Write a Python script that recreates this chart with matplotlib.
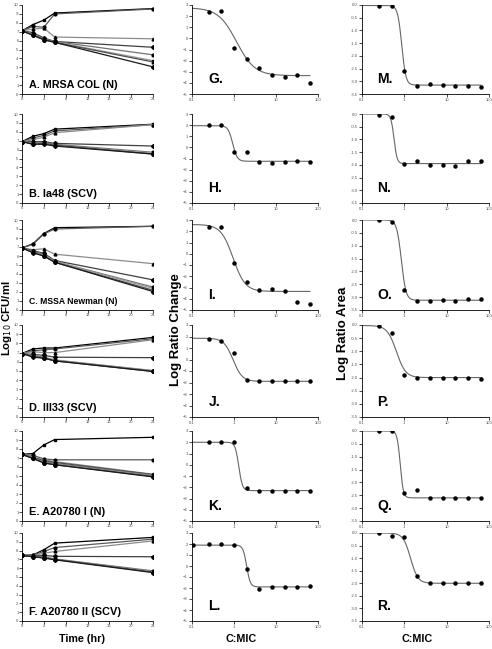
import numpy as np
import matplotlib
matplotlib.use("Agg")
import matplotlib.pyplot as plt
from matplotlib import font_manager
from matplotlib.ticker import FixedLocator, NullLocator

plt.rcParams['font.family'] = ['Liberation Sans', 'DejaVu Sans']

# narrow bold face for the panel captions, if the system has it
installed = {f.name for f in font_manager.fontManager.ttflist}
if 'Liberation Sans Narrow' in installed:
    cap_family, cap_scale = ['Liberation Sans Narrow', 'DejaVu Sans'], 1.0
else:
    cap_family, cap_scale = ['Liberation Sans', 'DejaVu Sans'], 0.82

# ---- time-kill data (Log10 CFU/ml vs time) ----
hours = [0, 2, 4, 6, 24]

kill_A = [[7.1, 7.8, 8.3, 9.1, 9.6],
          [7.1, 7.6, 7.5, 9.0, 9.55],
          [7.1, 7.3, 7.4, 6.4, 6.2],
          [7.1, 6.9, 6.3, 5.9, 5.25],
          [7.1, 6.7, 6.2, 5.9, 4.4],
          [7.1, 6.7, 6.1, 5.85, 3.75],
          [7.1, 6.6, 6.1, 5.8, 3.6],
          [7.1, 6.6, 6.1, 5.8, 3.05]]
kill_B = [[6.9, 7.5, 7.8, 8.3, 8.85],
          [6.9, 7.3, 7.6, 8.1, 8.8],
          [6.9, 7.1, 7.4, 7.9, 8.8],
          [6.9, 6.9, 6.9, 6.7, 6.4],
          [6.9, 6.8, 6.8, 6.6, 5.7],
          [6.9, 6.7, 6.7, 6.5, 5.6],
          [6.9, 6.6, 6.7, 6.5, 5.5],
          [6.9, 6.6, 6.6, 6.4, 5.5]]
kill_C = [[6.9, 7.35, 8.5, 9.15, 9.3],
          [6.9, 7.3, 8.45, 9.0, 9.3],
          [6.9, 6.7, 6.8, 6.2, 5.15],
          [6.9, 6.6, 6.3, 5.5, 3.35],
          [6.9, 6.5, 6.2, 5.4, 2.55],
          [6.9, 6.4, 6.1, 5.4, 2.4],
          [6.9, 6.4, 6.0, 5.3, 2.2],
          [6.9, 6.35, 6.0, 5.3, 2.05]]
kill_D = [[6.9, 7.4, 7.5, 7.5, 8.65],
          [6.9, 7.2, 7.3, 7.4, 8.5],
          [6.9, 7.1, 7.0, 7.0, 8.4],
          [6.9, 6.8, 6.7, 6.5, 6.45],
          [6.9, 6.7, 6.5, 6.2, 5.05],
          [6.9, 6.6, 6.45, 6.15, 5.0],
          [6.9, 6.6, 6.4, 6.1, 4.95],
          [6.9, 6.5, 6.4, 6.1, 4.95]]
kill_E = [[7.4, 7.5, 8.45, 9.05, 9.3],
          [7.4, 7.3, 6.9, 6.8, 6.8],
          [7.4, 7.1, 6.8, 6.6, 5.2],
          [7.4, 7.05, 6.7, 6.5, 5.15],
          [7.4, 7.0, 6.6, 6.4, 5.1],
          [7.4, 7.0, 6.5, 6.3, 5.0],
          [7.4, 6.95, 6.45, 6.25, 4.95],
          [7.4, 6.95, 6.45, 6.25, 4.9]]
kill_F = [[7.45, 7.5, 8.1, 8.85, 9.5],
          [7.45, 7.5, 7.9, 8.35, 9.3],
          [7.45, 7.45, 7.7, 7.9, 9.1],
          [7.45, 7.4, 7.45, 7.35, 7.3],
          [7.45, 7.35, 7.3, 7.05, 5.7],
          [7.45, 7.3, 7.2, 7.0, 5.6],
          [7.45, 7.3, 7.2, 7.0, 5.55],
          [7.45, 7.3, 7.15, 6.95, 5.5]]

kill_titles = ["A. MRSA COL (N)", "B. Ia48 (SCV)", "C. MSSA Newman (N)",
               "D. III33 (SCV)", "E. A20780 I (N)", "F. A20780 II (SCV)"]
title_sizes = [9.5, 9.6, 7.6, 9.6, 9.7, 9.7]

# ---- concentration-effect data (C:MIC) ----
cmic = [0.25, 0.5, 1, 2, 4, 8, 16, 32, 64]

change_G = [2.36, 2.45, -0.83, -1.84, -2.7, -3.26, -3.47, -3.3, -3.99]
change_H = [2.0, 2.0, -0.45, -0.45, -1.27, -1.4, -1.27, -1.2, -1.35]
change_I = [2.39, 2.42, -0.8, -2.5, -3.2, -3.17, -3.3, -4.3, -4.5]
change_J = [1.8, 1.6, 0.6, -1.8, -1.9, -1.9, -1.9, -1.9, -1.9]
change_K = [2.0, 2.0, 2.0, -2.1, -2.3, -2.3, -2.3, -2.3, -2.3]
change_L = [2.0, 2.0, 1.9, -0.25, -2.05, -1.9, -1.9, -1.95, -1.85]

area_M = [-0.05, -0.02, -2.6, -3.17, -3.1, -3.15, -3.17, -3.2, -3.22]
area_N = [-0.04, -0.1, -1.97, -1.86, -1.99, -1.99, -2.05, -1.84, -1.86]
area_O = [0.0, -0.07, -2.73, -3.15, -3.15, -3.12, -3.15, -3.06, -3.06]
area_P = [-0.05, -0.3, -1.9, -2.0, -2.0, -2.0, -2.0, -2.0, -2.05]
area_Q = [0.0, 0.0, -2.4, -2.3, -2.6, -2.6, -2.6, -2.6, -2.6]
area_R = [0.0, -0.1, -0.17, -1.7, -2.0, -2.0, -2.0, -2.0, -2.0]

# extra low-concentration point seen only in panel L
extra_L = (0.105, 1.9)

# sigmoid (Emax) fit parameters: top, bottom, EC50, Hill slope
fit_change = {"G": (2.75, -3.35, 1.15, 2.0), "H": (1.95, -1.25, 0.93, 8.0),
              "I": (2.6, -3.35, 0.95, 3.0), "J": (1.85, -1.9, 0.95, 4.0),
              "K": (2.0, -2.3, 1.3, 10.0), "L": (1.9, -1.9, 2.0, 10.0)}
fit_area = {"M": (-0.02, -3.15, 0.87, 9.0), "N": (0.0, -1.95, 0.57, 12.0),
            "O": (0.0, -3.12, 0.85, 8.0), "P": (-0.02, -2.0, 0.65, 4.0),
            "Q": (0.0, -2.6, 0.8, 12.0), "R": (0.0, -2.0, 1.4, 5.0)}

change_sets = [("G", change_G), ("H", change_H), ("I", change_I),
               ("J", change_J), ("K", change_K), ("L", change_L)]
area_sets = [("M", area_M), ("N", area_N), ("O", area_O),
             ("P", area_P), ("Q", area_Q), ("R", area_R)]
kill_sets = [kill_A, kill_B, kill_C, kill_D, kill_E, kill_F]


def hill(x, top, bottom, ec50, h):
    return bottom + (top - bottom) / (1.0 + (x / ec50) ** h)


def style_axis(ax, pad=1):
    for side in ("top", "right"):
        ax.spines[side].set_visible(False)
    for side in ("left", "bottom"):
        ax.spines[side].set_linewidth(0.6)
    ax.tick_params(direction="out", length=2, width=0.5, labelsize=3, pad=pad,
                   labelcolor="0.3")


W, H = 492, 649
fig = plt.figure(figsize=(W / 100, H / 100), dpi=100)

# row extents in pixels (top, bottom)
rows = [(5, 94), (114, 203), (220, 310), (325, 417), (431, 521), (533, 621)]
cols = [(22, 153), (192, 318), (362, 489)]

line_cols = ["black", "0.35", "0.55", "0.25", "0.45", "0.6", "0.3", "0.1"]
marks = ["s", "o", "^", "D", "o", "s", "^", "D"]

xfit = np.logspace(-1, np.log10(64), 300)

for r, (top, bot) in enumerate(rows):
    axs = []
    for (l, rgt) in cols:
        axs.append(fig.add_axes([l / W, 1 - bot / H, (rgt - l) / W, (bot - top) / H]))

    # time-kill panel
    ax = axs[0]
    for k, series in enumerate(kill_sets[r]):
        ax.plot(hours, series, color=line_cols[k], lw=0.9, marker=marks[k],
                ms=2.0, mfc="black", mec="black")
    ax.set_xlim(0, 24)
    ax.set_ylim(0, 10)
    ax.set_xticks(range(0, 25, 4))
    ax.set_yticks(range(0, 11))
    style_axis(ax, pad=0.5)
    ax.text(0.05, 0.07, kill_titles[r], transform=ax.transAxes,
            fontsize=title_sizes[r] * cap_scale, fontweight="bold",
            family=cap_family)

    # log ratio change panel
    ax = axs[1]
    name, vals = change_sets[r]
    ax.plot(xfit, hill(xfit, *fit_change[name]), color="0.4", lw=0.8)
    ax.plot(cmic, vals, "o", color="black", ms=2.2)
    if name == "L":
        ax.plot([extra_L[0]], [extra_L[1]], "o", color="black", ms=2.2)
    ax.set_xscale("log")
    ax.set_xlim(0.1, 100)
    ax.set_ylim(-5, 3)
    ax.xaxis.set_major_locator(FixedLocator([0.1, 1, 10, 100]))
    ax.xaxis.set_minor_locator(NullLocator())
    ax.set_xticklabels(["0.1", "1", "10", "100"])
    ax.set_yticks(range(-5, 4))
    style_axis(ax)
    ax.text(0.13, 0.12, name + ".", transform=ax.transAxes,
            fontsize=10, fontweight="bold")

    # log ratio area panel
    ax = axs[2]
    name, vals = area_sets[r]
    ax.plot(xfit, hill(xfit, *fit_area[name]), color="0.4", lw=0.8)
    ax.plot(cmic, vals, "o", color="black", ms=2.2)
    ax.set_xscale("log")
    ax.set_xlim(0.1, 100)
    ax.set_ylim(-3.5, 0)
    ax.xaxis.set_major_locator(FixedLocator([0.1, 1, 10, 100]))
    ax.xaxis.set_minor_locator(NullLocator())
    ax.set_xticklabels(["0.1", "1", "10", "100"])
    yt = np.arange(-3.5, 0.01, 0.5)
    ax.set_yticks(yt)
    ax.set_yticklabels(["%.1f" % v for v in yt])
    style_axis(ax)
    ax.text(0.12, 0.12, name + ".", transform=ax.transAxes,
            fontsize=10, fontweight="bold")

fig.text(6.8 / W, 1 - 318 / H, "Log$_{10}$ CFU/ml", rotation=90, ha="center",
         va="center", fontsize=8.2, fontweight="bold")
fig.text(176 / W, 1 - 330 / H, "Log Ratio Change", rotation=90, ha="center",
         va="center", fontsize=9.5, fontweight="bold")
fig.text(343 / W, 1 - 333 / H, "Log Ratio Area", rotation=90, ha="center",
         va="center", fontsize=9.5, fontweight="bold")
fig.text(82 / W, 1 - 639 / H, "Time (hr)", ha="center", va="center",
         fontsize=9.5 * cap_scale, fontweight="bold", family=cap_family)
fig.text(241 / W, 1 - 639 / H, "C:MIC", ha="center", va="center",
         fontsize=9.5 * cap_scale, fontweight="bold", family=cap_family)
fig.text(417 / W, 1 - 639 / H, "C:MIC", ha="center", va="center",
         fontsize=9.5 * cap_scale, fontweight="bold", family=cap_family)

fig.savefig("out.png", dpi=100)
